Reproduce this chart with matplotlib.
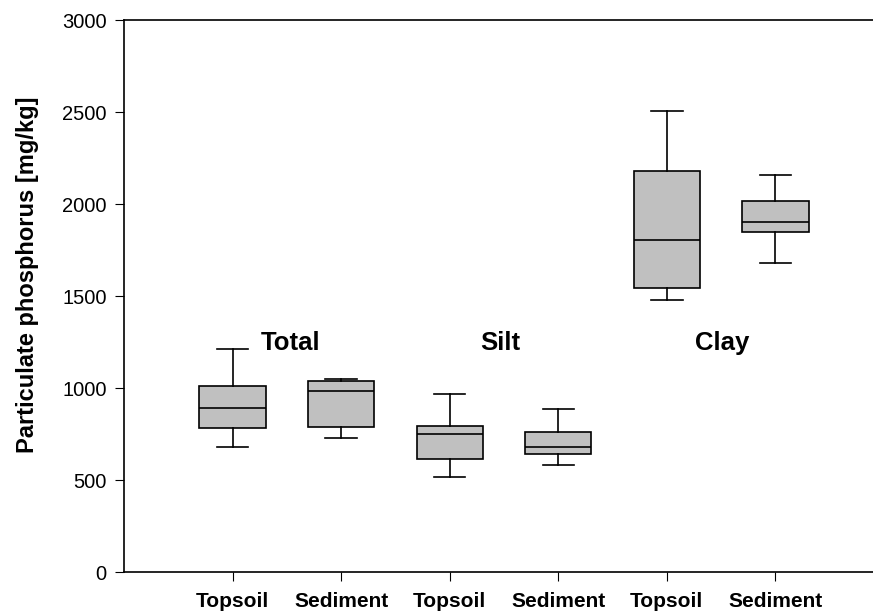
import matplotlib
matplotlib.use('Agg')
import matplotlib.pyplot as plt

plt.rcParams['font.family'] = ['Liberation Sans', 'DejaVu Sans']

# box statistics
labels = ["Topsoil", "Sediment", "Topsoil", "Sediment", "Topsoil", "Sediment"]
whislo = [679, 728, 516, 582, 1476, 1679]
q1 = [784, 790, 612, 641, 1543, 1846]
med = [893, 984, 748, 679, 1802, 1902]
q3 = [1011, 1038, 793, 763, 2178, 2015]
whishi = [1212, 1049, 969, 888, 2507, 2156]

groups = ["Total", "Silt", "Clay"]
group_x = [1.53, 3.47, 5.51]
group_y = [1245, 1245, 1245]

stats = []
for i in range(len(labels)):
    stats.append(dict(label=labels[i], whislo=whislo[i], q1=q1[i], med=med[i],
                      q3=q3[i], whishi=whishi[i], fliers=[]))

fig = plt.figure(figsize=(8.73, 6.12), dpi=100)
ax = fig.add_axes([124 / 873, 40 / 612, 760 / 873, 552 / 612])

ax.bxp(stats, positions=range(1, 7), widths=0.61, capwidths=0.29,
       patch_artist=True, showfliers=False,
       boxprops=dict(facecolor="#c0c0c0", edgecolor="black", linewidth=1.2),
       medianprops=dict(color="black", linewidth=1.2),
       whiskerprops=dict(color="black", linewidth=1.2),
       capprops=dict(color="black", linewidth=1.2))

for g, x, y in zip(groups, group_x, group_y):
    ax.text(x, y, g, ha="center", va="center", fontsize=18.5, fontweight="bold")

ax.set_xlim(0, 7)
ax.set_ylim(0, 3000)
ax.set_yticks([0, 500, 1000, 1500, 2000, 2500, 3000])
ax.set_xticks(range(1, 7))
ax.set_xticklabels(labels, fontweight="bold", fontsize=15)
ax.tick_params(axis="y", direction="out", length=6.5, labelsize=14.5, pad=6)
ax.tick_params(axis="x", direction="out", length=6.5, pad=8)
ax.set_ylabel("Particulate phosphorus [mg/kg]", fontsize=17, fontweight="bold")
ax.yaxis.set_label_coords(-0.112, 0.538)
ax.spines["right"].set_visible(False)
for s in ["left", "bottom", "top"]:
    ax.spines[s].set_linewidth(1.2)

fig.savefig("out.png", dpi=100)
